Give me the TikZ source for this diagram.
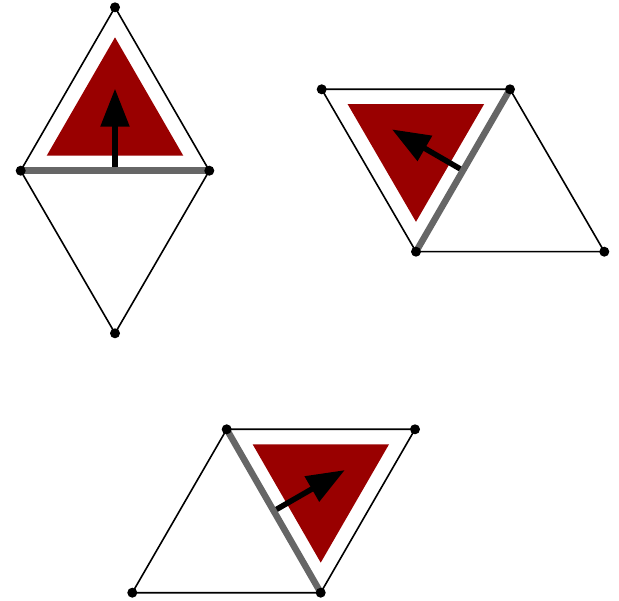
\documentclass[tikz,border=0pt]{standalone}
\usetikzlibrary{calc,arrows.meta}
\definecolor{tred}{HTML}{990000}
\definecolor{tgray}{HTML}{666666}
\tikzset{
  edge/.style={draw=black, line width=1.6pt, line join=round},
  redtri/.style={fill=tred, draw=none},
  grayedge/.style={draw=tgray, line width=6.5pt},
  normalarrow/.style={draw=black, line width=5.5pt, -{Triangle[length=38pt,width=28pt]}},
  vdot/.style={circle, fill=black, inner sep=0pt, minimum size=10pt},
}
\begin{document}
\begin{tikzpicture}[x=1pt,y=-1pt]
\useasboundingbox (0,0) rectangle (619,601);
% ---------- rhombus 1 ----------
\coordinate (a1) at (115,7.3);
\coordinate (b1) at (20.7,170.7);
\coordinate (c1) at (209.3,170.7);
\coordinate (d1) at (115,333.3);
\draw[edge] (a1) -- (b1) -- (d1) -- (c1) -- cycle;
\coordinate (g1) at ($0.3333*(a1)+0.3333*(b1)+0.3334*(c1)$);
\fill[redtri] ($(g1)!0.724!(a1)$) -- ($(g1)!0.724!(b1)$) -- ($(g1)!0.724!(c1)$) -- cycle;
\coordinate (m1) at ($(b1)!0.5!(c1)$);
\coordinate (t1) at ($(m1)!82pt!90:(c1)$);
\draw[normalarrow] (m1) -- (t1);
\draw[grayedge] (b1) -- (c1);
\foreach \v in {a1,b1,c1,d1} \node[vdot] (n\v) at (\v) {};
% ---------- rhombus 2 ----------
\coordinate (a2) at (321.7,89.3);
\coordinate (b2) at (510,89.3);
\coordinate (c2) at (416,251.7);
\coordinate (d2) at (604.3,251.7);
\draw[edge] (a2) -- (b2) -- (d2) -- (c2) -- cycle;
\coordinate (g2) at ($0.3333*(a2)+0.3333*(b2)+0.3334*(c2)$);
\fill[redtri] ($(g2)!0.724!(a2)$) -- ($(g2)!0.724!(b2)$) -- ($(g2)!0.724!(c2)$) -- cycle;
\coordinate (m2) at ($(b2)!0.5!(c2)$);
\coordinate (t2) at ($(m2)!82pt!-90:(c2)$);
\draw[normalarrow] (m2) -- (t2);
\draw[grayedge] (b2) -- (c2);
\foreach \v in {a2,b2,c2,d2} \node[vdot] (n\v) at (\v) {};
% ---------- rhombus 3 ----------
\coordinate (a3) at (226.7,429.3);
\coordinate (b3) at (415,429.3);
\coordinate (c3) at (320.7,592.7);
\coordinate (d3) at (132.3,592.7);
\draw[edge] (a3) -- (b3) -- (c3) -- (d3) -- cycle;
\coordinate (g3) at ($0.3333*(a3)+0.3333*(b3)+0.3334*(c3)$);
\fill[redtri] ($(g3)!0.724!(a3)$) -- ($(g3)!0.724!(b3)$) -- ($(g3)!0.724!(c3)$) -- cycle;
\coordinate (m3) at ($(a3)!0.5!(c3)$);
\coordinate (t3) at ($(m3)!82pt!90:(c3)$);
\draw[normalarrow] (m3) -- (t3);
\draw[grayedge] (a3) -- (c3);
\foreach \v in {a3,b3,c3,d3} \node[vdot] (n\v) at (\v) {};
\end{tikzpicture}
\end{document}
